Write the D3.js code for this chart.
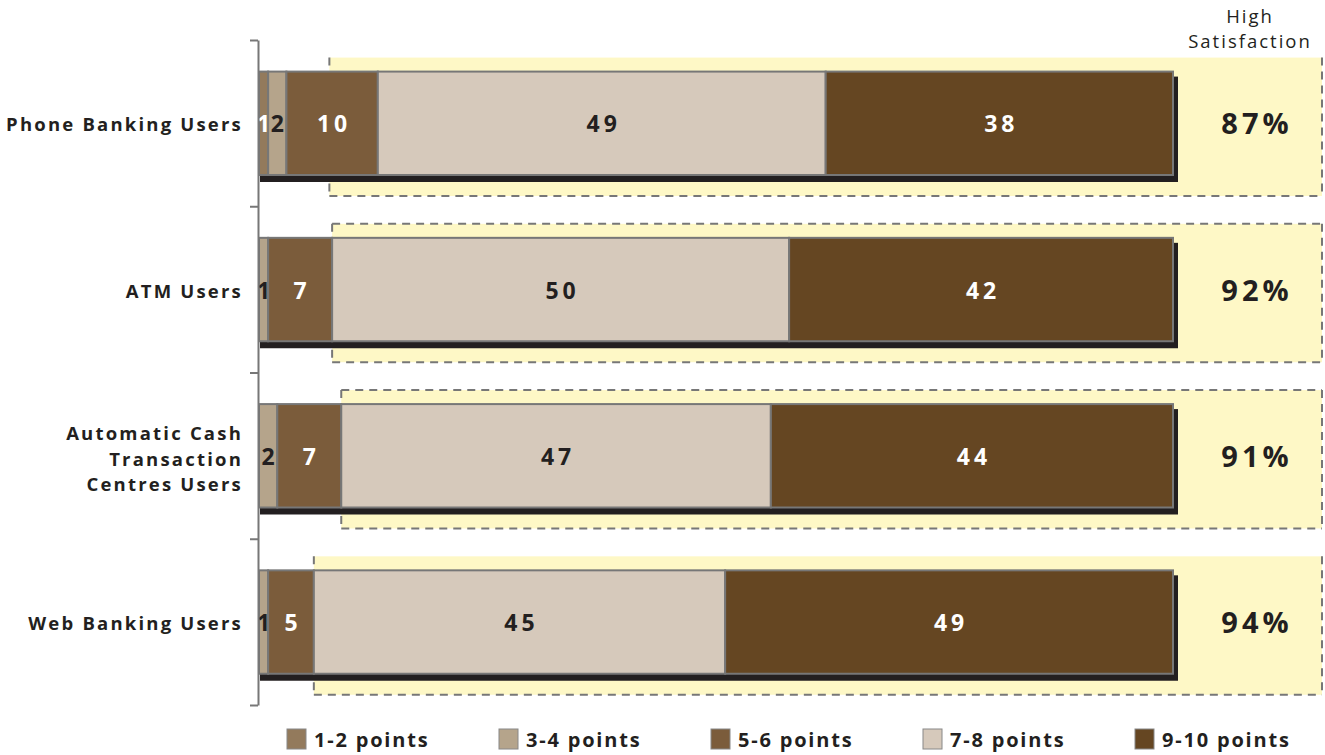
<!DOCTYPE html>
<html>
<head>
<meta charset="utf-8">
<script src="https://cdn.jsdelivr.net/npm/d3@7"></script>
<style>
  html, body { margin: 0; padding: 0; background: #fff; }
  svg { display: block; font-family: "Open Sans", "Lato", sans-serif; }
</style>
</head>
<body>
<svg id="chart" width="1325" height="755"></svg>
<script>
// ---- data ----
const categories = ["Phone Banking Users", "ATM Users", "Automatic Cash\nTransaction\nCentres Users", "Web Banking Users"];
const seriesNames = ["1-2 points", "3-4 points", "5-6 points", "7-8 points", "9-10 points"];
const pts12  = [1, 0, 0, 0];
const pts34  = [2, 1, 2, 1];
const pts56  = [10, 7, 7, 5];
const pts78  = [49, 50, 47, 45];
const pts910 = [38, 42, 44, 49];
const highSatisfaction = ["87%", "92%", "91%", "94%"];
const highlightStart = [7.7, 8, 9, 6];   // where the highlight box begins, in % units
const highlightTopEdge = [false, true, true, false];
const headerLines = ["High", "Satisfaction"];

const seriesValues = [pts12, pts34, pts56, pts78, pts910];
const colors = ["#937a5c", "#b5a48b", "#7b5c3b", "#d6c9bb", "#654622"];
const labelColors = ["#ffffff", "#231f20", "#ffffff", "#231f20", "#ffffff"];

const svg = d3.select("#chart");

const x = d3.scaleLinear().domain([0, 100]).range([259, 1173]);
const yb = d3.scaleBand().domain(d3.range(categories.length)).range([40, 705]).padding(0);
const step = yb.step();
const barTop = i => yb(i) + step * 0.19;
const barH = step * 0.622;

// ---- highlight boxes ----
const boxRight = 1322;
categories.forEach((c, i) => {
  const x0 = x(highlightStart[i]);
  const y0 = barTop(i) - 14;
  const y1 = barTop(i) + barH + 21;
  svg.append("rect").attr("x", x0).attr("y", y0).attr("width", boxRight - x0).attr("height", y1 - y0)
    .attr("fill", "#fef8c6");
  const g = svg.append("g").attr("stroke", "#777").attr("stroke-width", 2).attr("stroke-dasharray", "8,6").attr("fill", "none");
  const sides = [
    [x0, y1, boxRight, y1],
    [boxRight, y0, boxRight, y1],
    [x0, y0, x0, y1]
  ];
  if (highlightTopEdge[i]) sides.push([x0, y0, boxRight, y0]);
  sides.forEach(s => g.append("line").attr("x1", s[0]).attr("y1", s[1]).attr("x2", s[2]).attr("y2", s[3]));
  svg.append("text").attr("x", 1257).attr("y", barTop(i) + barH / 2 + 11)
    .attr("text-anchor", "middle").attr("font-size", 29).attr("font-weight", 700)
    .attr("letter-spacing", 4).attr("fill", "#231f20").text(highSatisfaction[i]);
});

// ---- header ----
headerLines.forEach((t, k) => {
  svg.append("text").attr("x", 1250).attr("y", 22.5 + k * 25.5).attr("text-anchor", "middle")
    .attr("font-size", 18.5).attr("letter-spacing", 2).attr("fill", "#231f20").text(t);
});

// ---- bars ----
const stackData = categories.map((c, i) => {
  const o = { i };
  seriesNames.forEach((s, j) => o[s] = seriesValues[j][i]);
  return o;
});
const stacked = d3.stack().keys(seriesNames)(stackData);

categories.forEach((c, i) => {
  // shadow
  svg.append("rect").attr("x", x(0) + 1).attr("y", barTop(i) + 5)
    .attr("width", x(100) - x(0) + 4).attr("height", barH + 2).attr("fill", "#231f20");
});

stacked.forEach((layer, j) => {
  const g = svg.append("g");
  layer.forEach((d, i) => {
    const w = x(d[1]) - x(d[0]);
    if (w <= 0) return;
    g.append("rect").attr("x", x(d[0])).attr("y", barTop(i)).attr("width", w).attr("height", barH)
      .attr("fill", colors[j]).attr("stroke", "#777").attr("stroke-width", 2);
  });
});
stacked.forEach((layer, j) => {
  layer.forEach((d, i) => {
    const v = d[1] - d[0];
    if (v <= 0) return;
    svg.append("text").attr("x", (x(d[0]) + x(d[1])) / 2 + (v >= 10 ? 2 : 0)).attr("y", barTop(i) + barH / 2 + 9)
      .attr("text-anchor", "middle").attr("font-size", 23).attr("font-weight", 700)
      .attr("letter-spacing", v >= 10 ? 4 : 0)
      .attr("fill", labelColors[j]).text(v);
  });
});

// ---- axis ----
const yl = d3.scaleLinear().domain([0, categories.length]).range([40, 705]);
svg.append("g").attr("transform", "translate(258,0)")
  .call(d3.axisLeft(yl).tickValues(d3.range(categories.length + 1)).tickSize(8).tickSizeOuter(0).tickFormat(""))
  .call(g => g.selectAll("path,line").attr("stroke", "#777").attr("stroke-width", 2));

// ---- category labels ----
categories.forEach((c, i) => {
  const lines = c.split("\n");
  const cy = barTop(i) + barH / 2 + (lines.length > 1 ? 2 : 0);
  lines.forEach((t, k) => {
    svg.append("text").attr("x", 243).attr("y", cy + 8 + (k - (lines.length - 1) / 2) * 25.5)
      .attr("text-anchor", "end").attr("font-size", 18.5).attr("font-weight", 700)
      .attr("letter-spacing", 2.2).attr("fill", "#231f20").text(t);
  });
});

// ---- legend ----
seriesNames.forEach((s, j) => {
  const lx = 287 + j * 212;
  svg.append("rect").attr("x", lx).attr("y", 729).attr("width", 19).attr("height", 20)
    .attr("fill", colors[j]).attr("stroke", "#888").attr("stroke-width", 1);
  svg.append("text").attr("x", lx + 27).attr("y", 747).attr("font-size", 20).attr("font-weight", 700)
    .attr("letter-spacing", 1.8).attr("fill", "#231f20").text(s);
});
</script>
</body>
</html>
